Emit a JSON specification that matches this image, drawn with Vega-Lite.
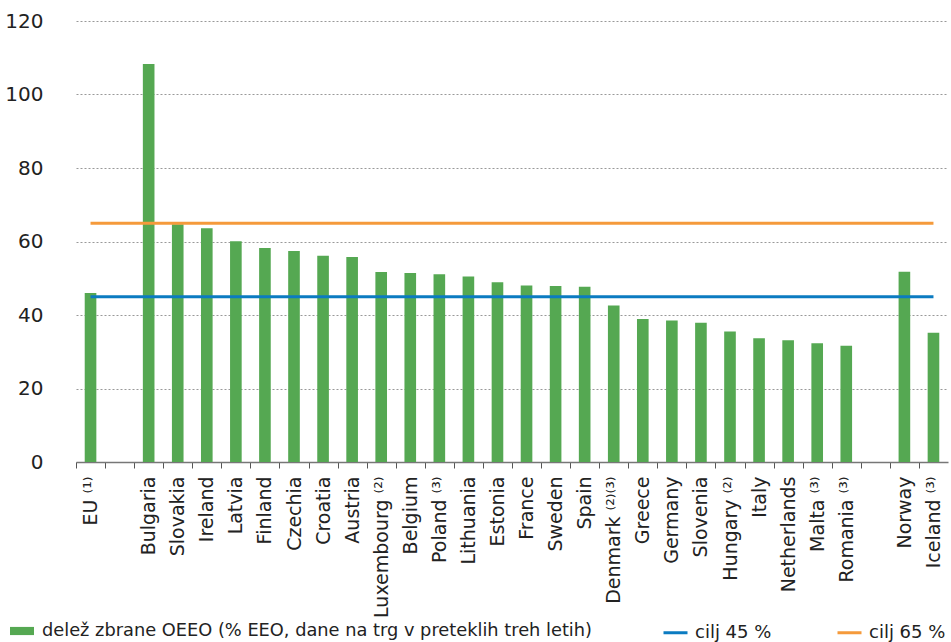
{
  "$schema": "https://vega.github.io/schema/vega-lite/v6.json",
  "width": 872,
  "height": 441,
  "autosize": "none",
  "padding": {"left": 76, "top": 21, "right": 3, "bottom": 180},
  "background": "white",
  "config": {
    "view": {"stroke": null},
    "font": "DejaVu Sans"
  },
  "datasets": {
    "bars": [
      {"country": "EU ⁽¹⁾", "value": 46.0, "series": "delež zbrane OEEO (% EEO, dane na trg v preteklih treh letih)"},
      {"country": "Bulgaria", "value": 108.3, "series": "delež zbrane OEEO (% EEO, dane na trg v preteklih treh letih)"},
      {"country": "Slovakia", "value": 64.7, "series": "delež zbrane OEEO (% EEO, dane na trg v preteklih treh letih)"},
      {"country": "Ireland", "value": 63.6, "series": "delež zbrane OEEO (% EEO, dane na trg v preteklih treh letih)"},
      {"country": "Latvia", "value": 60.1, "series": "delež zbrane OEEO (% EEO, dane na trg v preteklih treh letih)"},
      {"country": "Finland", "value": 58.2, "series": "delež zbrane OEEO (% EEO, dane na trg v preteklih treh letih)"},
      {"country": "Czechia", "value": 57.4, "series": "delež zbrane OEEO (% EEO, dane na trg v preteklih treh letih)"},
      {"country": "Croatia", "value": 56.1, "series": "delež zbrane OEEO (% EEO, dane na trg v preteklih treh letih)"},
      {"country": "Austria", "value": 55.8, "series": "delež zbrane OEEO (% EEO, dane na trg v preteklih treh letih)"},
      {"country": "Luxembourg ⁽²⁾", "value": 51.7, "series": "delež zbrane OEEO (% EEO, dane na trg v preteklih treh letih)"},
      {"country": "Belgium", "value": 51.4, "series": "delež zbrane OEEO (% EEO, dane na trg v preteklih treh letih)"},
      {"country": "Poland ⁽³⁾", "value": 51.1, "series": "delež zbrane OEEO (% EEO, dane na trg v preteklih treh letih)"},
      {"country": "Lithuania", "value": 50.5, "series": "delež zbrane OEEO (% EEO, dane na trg v preteklih treh letih)"},
      {"country": "Estonia", "value": 48.9, "series": "delež zbrane OEEO (% EEO, dane na trg v preteklih treh letih)"},
      {"country": "France", "value": 48.0, "series": "delež zbrane OEEO (% EEO, dane na trg v preteklih treh letih)"},
      {"country": "Sweden", "value": 47.9, "series": "delež zbrane OEEO (% EEO, dane na trg v preteklih treh letih)"},
      {"country": "Spain", "value": 47.7, "series": "delež zbrane OEEO (% EEO, dane na trg v preteklih treh letih)"},
      {"country": "Denmark ⁽²⁾⁽³⁾", "value": 42.6, "series": "delež zbrane OEEO (% EEO, dane na trg v preteklih treh letih)"},
      {"country": "Greece", "value": 38.9, "series": "delež zbrane OEEO (% EEO, dane na trg v preteklih treh letih)"},
      {"country": "Germany", "value": 38.5, "series": "delež zbrane OEEO (% EEO, dane na trg v preteklih treh letih)"},
      {"country": "Slovenia", "value": 37.9, "series": "delež zbrane OEEO (% EEO, dane na trg v preteklih treh letih)"},
      {"country": "Hungary ⁽²⁾", "value": 35.5, "series": "delež zbrane OEEO (% EEO, dane na trg v preteklih treh letih)"},
      {"country": "Italy", "value": 33.7, "series": "delež zbrane OEEO (% EEO, dane na trg v preteklih treh letih)"},
      {"country": "Netherlands", "value": 33.1, "series": "delež zbrane OEEO (% EEO, dane na trg v preteklih treh letih)"},
      {"country": "Malta ⁽³⁾", "value": 32.3, "series": "delež zbrane OEEO (% EEO, dane na trg v preteklih treh letih)"},
      {"country": "Romania ⁽³⁾", "value": 31.6, "series": "delež zbrane OEEO (% EEO, dane na trg v preteklih treh letih)"},
      {"country": "Norway", "value": 51.8, "series": "delež zbrane OEEO (% EEO, dane na trg v preteklih treh letih)"},
      {"country": "Iceland ⁽³⁾", "value": 35.2, "series": "delež zbrane OEEO (% EEO, dane na trg v preteklih treh letih)"}
    ],
    "targets": [
      {"series": "cilj 45 %", "value": 45, "start": "EU ⁽¹⁾", "end": "Iceland ⁽³⁾"},
      {"series": "cilj 65 %", "value": 65, "start": "EU ⁽¹⁾", "end": "Iceland ⁽³⁾"}
    ]
  },
  "layer": [
    {
      "data": {"name": "bars"},
      "mark": {"type": "bar"},
      "encoding": {
        "x": {
          "field": "country",
          "type": "nominal",
          "sort": null,
          "scale": {
            "domain": ["EU ⁽¹⁾", " ", "Bulgaria", "Slovakia", "Ireland", "Latvia", "Finland", "Czechia", "Croatia", "Austria", "Luxembourg ⁽²⁾", "Belgium", "Poland ⁽³⁾", "Lithuania", "Estonia", "France", "Sweden", "Spain", "Denmark ⁽²⁾⁽³⁾", "Greece", "Germany", "Slovenia", "Hungary ⁽²⁾", "Italy", "Netherlands", "Malta ⁽³⁾", "Romania ⁽³⁾", "  ", "Norway", "Iceland ⁽³⁾"],
            "paddingInner": 0.6,
            "paddingOuter": 0.3
          },
          "axis": {
            "title": null,
            "labelAngle": -90,
            "labelAlign": "right",
            "labelBaseline": "middle",
            "labelFont": "DejaVu Sans",
            "labelFontSize": 19,
            "labelColor": "#222222",
            "labelPadding": 8,
            "tickSize": 6,
            "tickOffset": -14.53,
            "labelOffset": 14.53,
            "tickColor": "#555555",
            "domainColor": "#777777",
            "domainWidth": 1.5,
            "grid": false
          }
        },
        "y": {
          "field": "value",
          "type": "quantitative",
          "scale": {"domain": [0, 120], "nice": false},
          "axis": {
            "title": null,
            "tickCount": 6,
            "domain": false,
            "tickSize": 0,
            "labelFont": "DejaVu Sans",
            "labelFontSize": 20,
            "labelColor": "#222222",
            "labelPadding": 33,
            "grid": true,
            "gridColor": "#999999",
            "gridDash": [2, 2],
            "gridWidth": 1
          }
        },
        "color": {
          "field": "series",
          "type": "nominal",
          "scale": {
            "domain": ["delež zbrane OEEO (% EEO, dane na trg v preteklih treh letih)"],
            "range": ["#55a852"]
          },
          "legend": {
            "title": null,
            "orient": "none",
            "legendX": -66,
            "legendY": 598,
            "labelFont": "DejaVu Sans",
            "labelFontSize": 17.8,
            "labelColor": "#222222",
            "labelOffset": 8,
            "labelLimit": 0,
            "symbolType": "M-1,-0.34H1V0.34H-1Z",
            "symbolSize": 576,
            "symbolOpacity": 1,
            "symbolStrokeWidth": 0
          }
        }
      }
    },
    {
      "data": {"name": "targets"},
      "mark": {"type": "rule", "strokeWidth": 3},
      "encoding": {
        "x": {"field": "start", "type": "nominal"},
        "x2": {"field": "end"},
        "y": {"field": "value", "type": "quantitative"},
        "stroke": {
          "field": "series",
          "type": "nominal",
          "scale": {"domain": ["cilj 45 %", "cilj 65 %"], "range": ["#0b7bc1", "#f59a3b"]},
          "legend": {
            "title": null,
            "orient": "none",
            "legendX": 586,
            "legendY": 598,
            "direction": "horizontal",
            "labelFont": "DejaVu Sans",
            "labelFontSize": 18,
            "labelColor": "#222222",
            "labelOffset": 6,
            "labelLimit": 0,
            "columnPadding": 59,
            "symbolType": "stroke",
            "symbolSize": 576,
            "symbolStrokeWidth": 3,
            "symbolOpacity": 1
          }
        }
      }
    }
  ]
}
